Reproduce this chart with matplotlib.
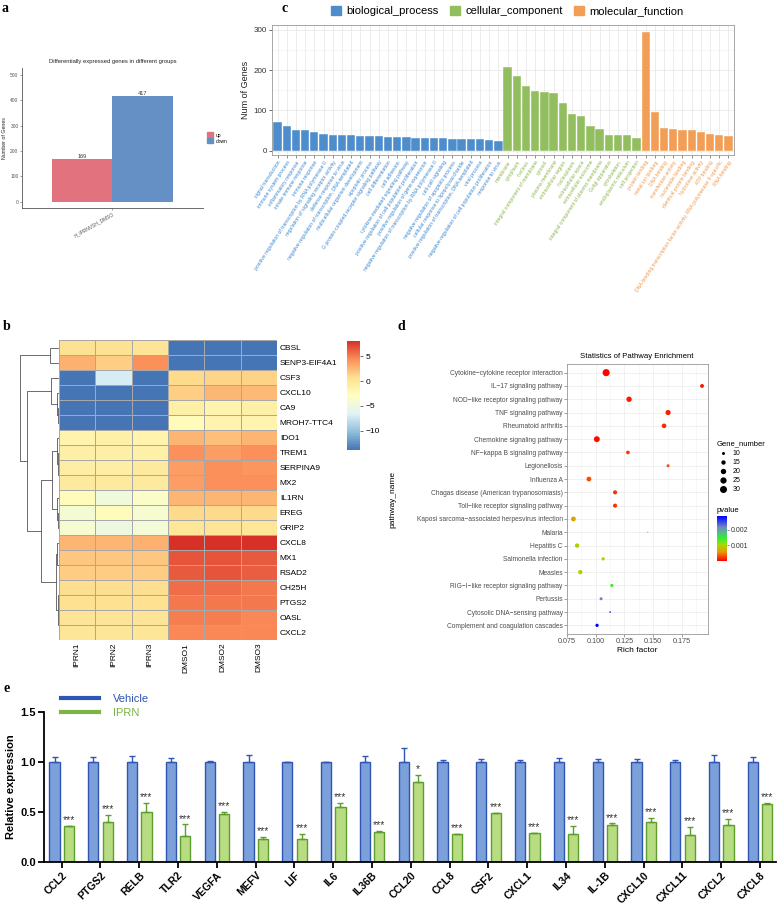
import numpy as np
import matplotlib
matplotlib.use('Agg')
import matplotlib.pyplot as plt
from matplotlib.colors import LinearSegmentedColormap, Normalize
from matplotlib.patches import Patch
from matplotlib.lines import Line2D

plt.rcParams['font.family'] = ['Liberation Sans', 'DejaVu Sans']

# ---------------- panel a data ----------------
deg_groups = ['H_IPRNVSH_DMSO']
deg_up = [169]
deg_down = [417]

# ---------------- panel c data ----------------
go_bp_terms = [
    'signal transduction', 'immune system process', 'inflammatory response',
    'innate immune response', 'immune response',
    'positive regulation of transcription by RNA polymerase II',
    'regulation of signaling receptor activity', 'defense response to virus',
    'negative regulation of transcription, DNA-templated',
    'multicellular organism development', 'apoptotic process',
    'G protein-coupled receptor signaling pathway', 'cell differentiation',
    'cell adhesion', 'cytokine-mediated signaling pathway',
    'positive regulation of cell population proliferation',
    'positive regulation of gene expression',
    'negative regulation of transcription by RNA polymerase II',
    'cell-cell signaling', 'negative regulation of apoptotic process',
    'cellular response to lipopolysaccharide',
    'positive regulation of transcription, DNA-templated', 'viral process',
    'negative regulation of cell population proliferation', 'response to virus']
go_bp_counts = [70, 60, 52, 50, 46, 42, 39, 39, 38, 37, 36, 35, 34, 34, 33,
                31, 31, 30, 30, 29, 29, 28, 28, 27, 24]
go_cc_terms = [
    'membrane', 'cytoplasm', 'nucleus', 'integral component of membrane',
    'cytosol', 'plasma membrane', 'extracellular region', 'nucleoplasm',
    'extracellular space', 'extracellular exosome',
    'integral component of plasma membrane', 'Golgi apparatus',
    'cytoskeleton', 'endoplasmic reticulum', 'cell projection']
go_cc_counts = [208, 186, 160, 147, 146, 143, 118, 90, 85, 61, 54, 39, 39, 38, 32]
go_mf_terms = [
    'protein binding', 'metal ion binding', 'DNA binding',
    'transferase activity', 'nucleotide binding', 'identical protein binding',
    'hydrolase activity', 'ATP binding',
    'DNA-binding transcription factor activity, RNA polymerase II-specific',
    'RNA binding']
go_mf_counts = [295, 97, 57, 53, 51, 50, 46, 40, 38, 35]
go_categories = ['biological_process', 'cellular_component', 'molecular_function']

# ---------------- panel b data ----------------
hm_genes = ['CBSL', 'SENP3-EIF4A1', 'CSF3', 'CXCL10', 'CA9', 'MROH7-TTC4',
            'IDO1', 'TREM1', 'SERPINA9', 'MX2', 'IL1RN', 'EREG', 'GRIP2',
            'CXCL8', 'MX1', 'RSAD2', 'CH25H', 'PTGS2', 'OASL', 'CXCL2']
hm_samples = ['IPRN1', 'IPRN2', 'IPRN3', 'DMSO1', 'DMSO2', 'DMSO3']
hm_values = [
    [0.5, 0.5, 0.3, -13.9, -13.9, -13.9],
    [2.8, 1.5, 4.2, -13.9, -13.9, -13.9],
    [-13.9, -7.0, -13.9, 1.0, 1.2, 1.3],
    [-13.9, -13.9, -13.9, 1.5, 2.5, 2.4],
    [-13.9, -13.9, -13.9, -1.0, -1.6, -1.0],
    [-13.9, -13.9, -13.9, -2.6, -1.5, -1.6],
    [-1.5, -1.2, -1.5, 2.6, 2.2, 2.6],
    [-1.0, -1.0, -1.2, 4.2, 3.6, 4.2],
    [-0.8, -0.8, -0.5, 3.6, 4.2, 4.0],
    [-0.5, -0.5, -0.5, 3.6, 4.2, 4.2],
    [-2.6, -4.8, -3.5, 2.6, 2.6, 2.6],
    [-4.2, -2.6, -4.0, 1.0, 1.0, 1.0],
    [-4.0, -5.0, -4.5, 0.0, 0.2, 0.0],
    [2.6, 2.6, 2.8, 8.0, 8.0, 8.0],
    [1.8, 1.8, 1.8, 6.6, 6.6, 6.4],
    [1.6, 1.6, 1.6, 6.4, 6.6, 6.2],
    [0.8, 0.8, 0.8, 5.6, 5.6, 5.2],
    [0.6, 0.6, 0.6, 5.2, 5.2, 5.2],
    [0.2, 0.2, 0.2, 5.0, 5.0, 4.6],
    [0.0, 0.0, 0.0, 4.6, 4.6, 4.6]]
# row dendrogram: (left, right, merge height)
dendro_tree = (
    ('CBSL', 'SENP3-EIF4A1', 0.22),
    (('CSF3', ('CXCL10', ('CA9', 'MROH7-TTC4', 0.02), 0.06), 0.2),
     ((('IDO1', ('TREM1', ('SERPINA9', 'MX2', 0.01), 0.02), 0.06),
       ('IL1RN', ('EREG', 'GRIP2', 0.02), 0.05), 0.19),
      (('CXCL8', ('MX1', 'RSAD2', 0.01), 0.04),
       (('CH25H', 'PTGS2', 0.01), ('OASL', 'CXCL2', 0.01), 0.03), 0.07), 0.45),
     0.82),
    1.0)

# ---------------- panel d data ----------------
kegg_pathways = [
    'Cytokine\u2212cytokine receptor interaction', 'IL\u221217 signaling pathway',
    'NOD\u2212like receptor signaling pathway', 'TNF signaling pathway',
    'Rheumatoid arthritis', 'Chemokine signaling pathway',
    'NF\u2212kappa B signaling pathway', 'Legionellosis', 'Influenza A',
    'Chagas disease (American trypanosomiasis)',
    'Toll\u2212like receptor signaling pathway',
    'Kaposi sarcoma\u2212associated herpesvirus infection', 'Malaria',
    'Hepatitis C', 'Salmonella infection', 'Measles',
    'RIG\u2212I\u2212like receptor signaling pathway', 'Pertussis',
    'Cytosolic DNA\u2212sensing pathway', 'Complement and coagulation cascades']
kegg_rich = [0.109, 0.1926, 0.129, 0.163, 0.1595, 0.1009, 0.128, 0.163, 0.094,
             0.1168, 0.1168, 0.0805, 0.1453, 0.0837, 0.1064, 0.0865, 0.114,
             0.1046, 0.1125, 0.1011]
kegg_genes = [31, 13, 20, 19, 16, 23, 12, 10, 17, 14, 14, 17, 6, 15, 11, 15, 11,
              10, 7, 11]
kegg_pvalue = [0.00002, 0.0001, 0.0001, 0.00012, 0.00015, 0.00005, 0.0002,
               0.0003, 0.0003, 0.0002, 0.0002, 0.00065, 0.0006, 0.00095,
               0.001, 0.001, 0.0014, 0.0022, 0.0026, 0.0029]

# ---------------- panel e data ----------------
qpcr_genes = ['CCL2', 'PTGS2', 'RELB', 'TLR2', 'VEGFA', 'MEFV', 'LIF', 'IL6',
              'IL36B', 'CCL20', 'CCL8', 'CSF2', 'CXCL1', 'IL34', 'IL-1B',
              'CXCL10', 'CXCL11', 'CXCL2', 'CXCL8']
vehicle_mean = [1.0] * 19
vehicle_err = [0.05, 0.05, 0.063, 0.04, 0.013, 0.07, 0.004, 0.004, 0.063, 0.14,
               0.023, 0.03, 0.023, 0.04, 0.033, 0.033, 0.02, 0.073, 0.047]
iprn_mean = [0.357, 0.403, 0.50, 0.263, 0.477, 0.227, 0.23, 0.55, 0.303, 0.803,
             0.28, 0.49, 0.29, 0.277, 0.373, 0.403, 0.273, 0.37, 0.58]
iprn_err = [0.005, 0.067, 0.09, 0.113, 0.027, 0.023, 0.05, 0.037, 0.005, 0.067,
            0.005, 0.003, 0.005, 0.087, 0.013, 0.037, 0.08, 0.057, 0.01]
iprn_sig = ['***'] * 9 + ['*'] + ['***'] * 9

# ================= figure =================
W, H = 778, 907
fig = plt.figure(figsize=(W / 100, H / 100), dpi=100)


def rect(x0, y0, x1, y1):
    return [x0 / W, 1 - y1 / H, (x1 - x0) / W, (y1 - y0) / H]


def fxy(x, y):
    return (x / W, 1 - y / H)


for lab, (px, py) in zip('acbde', [(2, 2), (282, 2), (3, 320), (398, 320), (3, 682)]):
    fig.text(*fxy(px, py), lab, fontsize=10, fontweight='bold',
             family=['Liberation Serif', 'DejaVu Serif'], va='top', ha='left')

# ---------- panel a ----------
axa = fig.add_axes(rect(22, 68, 203, 208))
xa = np.arange(len(deg_groups))
axa.bar(xa - 0.5, deg_up, width=1, color='#E2737E', label='up')
axa.bar(xa + 0.5, deg_down, width=1, color='#6590C6', label='down')
for x, v in zip(xa - 0.5, deg_up):
    axa.text(x, v, str(v), ha='center', va='bottom', fontsize=4, color='#333333')
for x, v in zip(xa + 0.5, deg_down):
    axa.text(x, v, str(v), ha='center', va='bottom', fontsize=4, color='#333333')
axa.set_xlim(-1.5, 1.5)
axa.set_ylim(-25, 528)
axa.set_yticks([0, 100, 200, 300, 400, 500])
axa.set_xticks(xa)
axa.set_xticklabels(deg_groups, rotation=30, ha='right', rotation_mode='anchor')
axa.tick_params(labelsize=3.5, length=1.5, width=0.4, colors='#555555', pad=1)
for s in ['top', 'right']:
    axa.spines[s].set_visible(False)
for s in ['left', 'bottom']:
    axa.spines[s].set_color('#555555')
    axa.spines[s].set_linewidth(0.6)
axa.set_ylabel('Number of Genes', fontsize=3.8, labelpad=2, color='#222222')
fig.text(*fxy(113, 62), 'Differentially expressed genes in different groups',
         fontsize=4.2, ha='center', va='center', color='#222222')
axa.legend(handles=[Patch(color='#E2737E', label='up'), Patch(color='#6590C6', label='down')],
           loc='center left', bbox_to_anchor=fxy(205, 138), bbox_transform=fig.transFigure,
           fontsize=3.5, frameon=False, handlelength=1.2, handleheight=1.2,
           handletextpad=0.5, labelspacing=0.2, borderpad=0)

# ---------- panel c ----------
col_bp, col_cc, col_mf = '#4E8DCB', '#92BE5F', '#F29E56'
lab_bp, lab_cc, lab_mf = '#3D88CF', '#8DB54F', '#EF9A4E'
terms = go_bp_terms + go_cc_terms + go_mf_terms
counts = go_bp_counts + go_cc_counts + go_mf_counts
bar_cols = [col_bp] * len(go_bp_terms) + [col_cc] * len(go_cc_terms) + [col_mf] * len(go_mf_terms)
txt_cols = [lab_bp] * len(go_bp_terms) + [lab_cc] * len(go_cc_terms) + [lab_mf] * len(go_mf_terms)
axc = fig.add_axes(rect(272, 25, 734, 155))
xc = np.arange(len(terms))
axc.bar(xc, counts, width=0.9, color=bar_cols, edgecolor='white', linewidth=0.3, zorder=2)
axc.set_xlim(-0.6, len(terms) - 0.4)
axc.set_ylim(-11, 312)
axc.set_yticks([0, 100, 200, 300])
axc.set_yticks([50, 150, 250], minor=True)
axc.set_xticks(xc)
axc.set_xticklabels(terms, rotation=57, ha='right', va='top', rotation_mode='anchor', fontsize=3.7)
for t, c in zip(axc.get_xticklabels(), txt_cols):
    t.set_color(c)
axc.tick_params(axis='y', labelsize=5.8, length=2, width=0.5, colors='#333333', pad=1.5)
axc.tick_params(axis='x', length=2, width=0.4, color='#333333', pad=1.5)
axc.tick_params(which='minor', length=0)
axc.grid(True, which='major', color='#E5E5E5', lw=0.5, zorder=0)
axc.grid(True, which='minor', axis='y', color='#F0F0F0', lw=0.4, zorder=0)
for s in axc.spines.values():
    s.set_color('#999999')
    s.set_linewidth(0.6)
axc.set_ylabel('Num of Genes', fontsize=6.5, labelpad=3, color='#222222')
fig.legend(handles=[Patch(color=col_bp, label=go_categories[0]),
                    Patch(color=col_cc, label=go_categories[1]),
                    Patch(color=col_mf, label=go_categories[2])],
           loc='center', bbox_to_anchor=fxy(507, 11), ncol=3, fontsize=8,
           frameon=False, handlelength=0.9, handleheight=0.9, handletextpad=0.5,
           columnspacing=1.0, borderpad=0)

# ---------- panel b ----------
cmap_hm = LinearSegmentedColormap.from_list(
    'rdylbu', ['#4575B4', '#91BFDB', '#E0F3F8', '#FFFFBF', '#FEE090', '#FC8D59', '#D73027'])
vals = np.array(hm_values)
axb = fig.add_axes(rect(59, 340, 277, 640))
mesh = axb.pcolormesh(vals, cmap=cmap_hm, vmin=-13.9, vmax=8.06,
                      edgecolors='#A8A8A8', linewidth=0.5)
axb.set_xlim(0, len(hm_samples))
axb.set_ylim(len(hm_genes), 0)
axb.yaxis.tick_right()
axb.set_yticks(np.arange(len(hm_genes)) + 0.5)
axb.set_yticklabels(hm_genes, fontsize=6)
axb.set_xticks(np.arange(len(hm_samples)) + 0.5)
axb.set_xticklabels(hm_samples, rotation=90, fontsize=6)
axb.tick_params(length=0, pad=2)
for s in axb.spines.values():
    s.set_visible(False)
cax = fig.add_axes(rect(347, 341, 360, 450))
cb = fig.colorbar(mesh, cax=cax, ticks=[5, 0, -5, -10])
cb.outline.set_visible(False)
cb.ax.tick_params(labelsize=6, length=2, width=0.4, pad=2)

axden = fig.add_axes(rect(18, 340, 59, 640))


def draw_dendro(node):
    if isinstance(node, str):
        return hm_genes.index(node) + 0.5, 0.0
    left, right, h = node
    yl, hl = draw_dendro(left)
    yr, hr = draw_dendro(right)
    axden.plot([hl, h, h, hr], [yl, yl, yr, yr], color='#555555', lw=0.6)
    return (yl + yr) / 2, h


draw_dendro(dendro_tree)
axden.set_xlim(1.05, 0)
axden.set_ylim(len(hm_genes), 0)
axden.axis('off')

# ---------- panel d ----------
cmap_p = LinearSegmentedColormap.from_list(
    'pv', [(0, '#FF0000'), (0.2, '#E89A00'), (0.36, '#A8D800'), (0.5, '#33F033'),
           (0.75, '#7088C8'), (1, '#0000FF')])
norm_p = Normalize(0, 0.0029)


def gsize(g):
    d = np.sqrt(np.maximum(2 * np.asarray(g, float) - 11, 1.5))
    return (d * 0.72) ** 2


axd = fig.add_axes(rect(567, 364, 708, 634))
yd = np.arange(len(kegg_pathways))
sc = axd.scatter(kegg_rich, yd, s=gsize(kegg_genes), c=kegg_pvalue, cmap=cmap_p,
                 norm=norm_p, linewidths=0, zorder=3)
axd.set_ylim(len(kegg_pathways) - 1 + 0.65, -0.65)
axd.set_xlim(0.0749, 0.1978)
axd.set_yticks(yd)
axd.set_yticklabels(kegg_pathways, fontsize=4.8, color='#4D4D4D')
axd.set_xticks([0.075, 0.100, 0.125, 0.150, 0.175])
axd.set_xticklabels(['0.075', '0.100', '0.125', '0.150', '0.175'], fontsize=5.2, color='#4D4D4D')
axd.set_xticks([0.0875, 0.1125, 0.1375, 0.1625, 0.1875], minor=True)
axd.tick_params(length=2, width=0.4, color='#555555', pad=1)
axd.tick_params(which='minor', length=0)
axd.grid(True, which='major', color='#EBEBEB', lw=0.5, zorder=0)
axd.grid(True, which='minor', axis='x', color='#F3F3F3', lw=0.4, zorder=0)
for s in axd.spines.values():
    s.set_color('#999999')
    s.set_linewidth(0.6)
axd.set_xlabel('Rich factor', fontsize=6, labelpad=1)
fig.text(*fxy(393, 500), 'pathway_name', rotation=90, fontsize=6, ha='center', va='center')
fig.text(*fxy(637, 357), 'Statistics of Pathway Enrichment', fontsize=5.6, ha='center', va='center')

leg_sizes = [10, 15, 20, 25, 30]
handles = [axd.scatter([], [], s=gsize(v), color='black', linewidths=0, label=str(v)) for v in leg_sizes]
axd.legend(handles=handles, title='Gene_number', loc='upper left',
           bbox_to_anchor=fxy(713, 437), bbox_transform=fig.transFigure,
           fontsize=5, title_fontsize=5.5, frameon=False, labelspacing=0.3,
           handletextpad=0.3, borderpad=0, alignment='left')
caxp = fig.add_axes(rect(717, 516, 727, 561))
cbp = fig.colorbar(sc, cax=caxp, ticks=[0.001, 0.002])
cbp.outline.set_visible(False)
cbp.ax.set_yticklabels(['0.001', '0.002'])
cbp.ax.tick_params(labelsize=5, length=1.5, width=0.4, colors='#333333', pad=1)
fig.text(*fxy(717, 510), 'pvalue', fontsize=5.5, ha='left', va='center')

# ---------- panel e ----------
veh_face, veh_edge = '#7BA0DA', '#2F55B5'
ipr_face, ipr_edge = '#B8DC82', '#5E9E2E'
axe = fig.add_axes(rect(44, 712, 776, 862))
xe = np.arange(len(qpcr_genes))
off, bw = 0.185, 0.26
axe.bar(xe - off, vehicle_mean, width=bw, color=veh_face, edgecolor=veh_edge, linewidth=1,
        yerr=[np.zeros(len(xe)), vehicle_err],
        error_kw=dict(ecolor=veh_edge, elinewidth=1, capsize=2.2, capthick=1), zorder=2)
axe.bar(xe + off, iprn_mean, width=bw, color=ipr_face, edgecolor=ipr_edge, linewidth=1,
        yerr=[np.zeros(len(xe)), iprn_err],
        error_kw=dict(ecolor=ipr_edge, elinewidth=1, capsize=2.2, capthick=1), zorder=2)
for x, m, e, s in zip(xe + off, iprn_mean, iprn_err, iprn_sig):
    axe.text(x, m + e + 0.008, s, ha='center', va='bottom', fontsize=7.5, color='#333333')
axe.set_xlim(-0.456, len(qpcr_genes) - 0.59)
axe.set_ylim(0, 1.5)
axe.set_yticks([0, 0.5, 1.0, 1.5])
axe.set_yticklabels(['0.0', '0.5', '1.0', '1.5'], fontweight='bold', fontsize=8)
axe.set_xticks(xe)
axe.set_xticklabels(qpcr_genes, rotation=45, ha='right', rotation_mode='anchor',
                    fontweight='bold', fontsize=7.5)
axe.tick_params(direction='out', length=4, width=1.3, pad=2)
for s in ['top', 'right']:
    axe.spines[s].set_visible(False)
for s in ['left', 'bottom']:
    axe.spines[s].set_linewidth(1.3)
axe.set_ylabel('Relative expression', fontweight='bold', fontsize=8, labelpad=3)
leg = axe.legend(handles=[Line2D([], [], color=veh_edge, lw=3, label='Vehicle'),
                          Line2D([], [], color='#7CB342', lw=3, label='IPRN')],
                 loc='upper left', bbox_to_anchor=fxy(55, 688), bbox_transform=fig.transFigure,
                 fontsize=8, frameon=False, handlelength=3.5, handletextpad=1.2,
                 labelspacing=0.4, borderpad=0)
for t, c in zip(leg.get_texts(), [veh_edge, '#7CB342']):
    t.set_color(c)

fig.savefig('out.png', dpi=100)
